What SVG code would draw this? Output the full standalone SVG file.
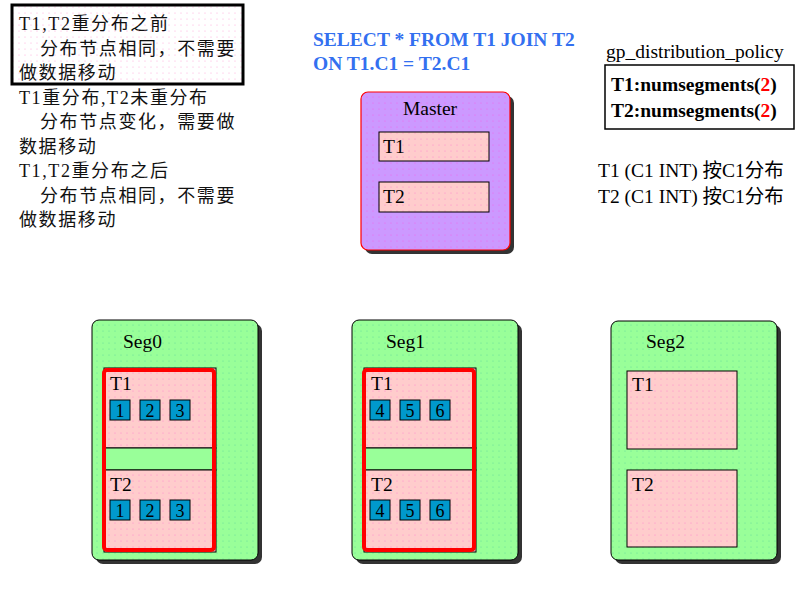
<svg xmlns="http://www.w3.org/2000/svg" width="800" height="600" viewBox="0 0 800 600">
<defs>
<pattern id="pinkdots" width="6" height="6" patternUnits="userSpaceOnUse"><rect width="6" height="6" fill="#ffcccc"/><circle cx="1" cy="1" r="0.6" fill="#ff88cc"/></pattern>
<pattern id="greendots" width="6" height="6" patternUnits="userSpaceOnUse"><rect width="6" height="6" fill="#99ff99"/><circle cx="1" cy="1" r="0.6" fill="#66dd99"/></pattern>
<pattern id="purpledots" width="6" height="6" patternUnits="userSpaceOnUse"><rect width="6" height="6" fill="#cc99ff"/><circle cx="1" cy="1" r="0.6" fill="#ee66ee"/></pattern>
<pattern id="whitedots" width="6" height="6" patternUnits="userSpaceOnUse"><rect width="6" height="6" fill="#ffffff"/><circle cx="1" cy="1" r="0.6" fill="#ffaadd"/></pattern>
</defs>
<style>
text{font-family:"Liberation Serif","Noto Sans CJK SC",serif;font-size:18px;fill:#000}
.cn{letter-spacing:1.6px;fill:#111}
.big{font-size:19.5px}
.sql{font-weight:bold;fill:#3370f0;font-size:19.5px}
.shadow{fill:#333}
.seg{fill:url(#greendots);stroke:#000;stroke-width:1}
.tbl{fill:url(#pinkdots);stroke:#000;stroke-width:1}
.band{fill:#99ff99;stroke:#000;stroke-width:1}
.redbox{fill:none;stroke:#ff0000;stroke-width:4}
.sq{fill:#0099cc;stroke:#000;stroke-width:1}
.num{text-anchor:middle}
.bold{font-weight:bold}
.red{fill:#ff0000}
</style>
<rect width="800" height="600" fill="#fff"/>

<g id="notes">
<rect x="12" y="5" width="231" height="79" fill="url(#whitedots)" stroke="#000" stroke-width="3"/>
<text class="cn" x="19" y="30">T1,T2重分布之前</text>
<text class="cn" x="40" y="54.5">分布节点相同，不需要</text>
<text class="cn" x="19" y="79">做数据移动</text>
<text class="cn" x="19" y="103.5">T1重分布,T2未重分布</text>
<text class="cn" x="40" y="128">分布节点变化，需要做</text>
<text class="cn" x="19" y="152.5">数据移动</text>
<text class="cn" x="19" y="177">T1,T2重分布之后</text>
<text class="cn" x="40" y="201.5">分布节点相同，不需要</text>
<text class="cn" x="19" y="226">做数据移动</text>
</g>

<g id="sql">
<text class="sql" x="313" y="46">SELECT * FROM T1 JOIN T2</text>
<text class="sql" x="313" y="70">ON T1.C1 = T2.C1</text>
</g>

<g id="policy">
<text class="big" x="606" y="58">gp_distribution_policy</text>
<rect x="605" y="65" width="189" height="64" fill="#fff" stroke="#000" stroke-width="1.5"/>
<text class="bold big" x="611" y="91">T1:numsegments(<tspan class="red">2</tspan>)</text>
<text class="bold big" x="611" y="117">T2:numsegments(<tspan class="red">2</tspan>)</text>
<text class="big" x="598" y="177">T1 (C1 INT) 按C1分布</text>
<text class="big" x="598" y="203">T2 (C1 INT) 按C1分布</text>
</g>

<g id="master">
<rect class="shadow" x="365" y="96" width="149" height="158" rx="7"/>
<rect x="361" y="92" width="149" height="158" rx="7" fill="url(#purpledots)" stroke="#ff0000" stroke-width="1.2"/>
<text class="big" x="430" y="115" text-anchor="middle">Master</text>
<rect class="tbl" x="379" y="132" width="110" height="29"/>
<text class="big" x="383" y="153">T1</text>
<rect class="tbl" x="379" y="182" width="110" height="30"/>
<text class="big" x="383" y="203">T2</text>
</g>

<g id="seg0">
<rect class="shadow" x="96" y="324" width="166" height="240" rx="7"/>
<rect class="seg" x="92" y="320" width="166" height="240" rx="7"/>
<text class="big" x="123" y="348">Seg0</text>
<rect class="tbl" x="104" y="368" width="112" height="80"/>
<rect class="band" x="104" y="448" width="112" height="22"/>
<rect class="tbl" x="104" y="470" width="112" height="82"/>
<rect class="redbox" x="104" y="370" width="110" height="180" rx="3"/>
<text class="big" x="110" y="390">T1</text>
<rect class="sq" x="110" y="400" width="20" height="20"/><text class="num" x="120" y="417">1</text>
<rect class="sq" x="140" y="400" width="20" height="20"/><text class="num" x="150" y="417">2</text>
<rect class="sq" x="170" y="400" width="20" height="20"/><text class="num" x="180" y="417">3</text>
<text class="big" x="110" y="491">T2</text>
<rect class="sq" x="110" y="500" width="20" height="20"/><text class="num" x="120" y="517">1</text>
<rect class="sq" x="140" y="500" width="20" height="20"/><text class="num" x="150" y="517">2</text>
<rect class="sq" x="170" y="500" width="20" height="20"/><text class="num" x="180" y="517">3</text>
</g>

<g id="seg1">
<rect class="shadow" x="356" y="324" width="166" height="240" rx="7"/>
<rect class="seg" x="352" y="320" width="166" height="240" rx="7"/>
<text class="big" x="386" y="348">Seg1</text>
<rect class="tbl" x="364" y="368" width="112" height="80"/>
<rect class="band" x="364" y="448" width="112" height="22"/>
<rect class="tbl" x="364" y="470" width="112" height="82"/>
<rect class="redbox" x="364" y="370" width="110" height="180" rx="3"/>
<text class="big" x="371" y="390">T1</text>
<rect class="sq" x="370" y="400" width="20" height="20"/><text class="num" x="380" y="417">4</text>
<rect class="sq" x="400" y="400" width="20" height="20"/><text class="num" x="410" y="417">5</text>
<rect class="sq" x="430" y="400" width="20" height="20"/><text class="num" x="440" y="417">6</text>
<text class="big" x="371" y="491">T2</text>
<rect class="sq" x="370" y="500" width="20" height="20"/><text class="num" x="380" y="517">4</text>
<rect class="sq" x="400" y="500" width="20" height="20"/><text class="num" x="410" y="517">5</text>
<rect class="sq" x="430" y="500" width="20" height="20"/><text class="num" x="440" y="517">6</text>
</g>

<g id="seg2">
<rect class="shadow" x="615" y="325" width="166" height="239" rx="7"/>
<rect class="seg" x="611" y="321" width="166" height="239" rx="7"/>
<text class="big" x="646" y="348">Seg2</text>
<rect class="tbl" x="627" y="371" width="110" height="78"/>
<text class="big" x="632" y="391">T1</text>
<rect class="tbl" x="627" y="470" width="110" height="77"/>
<text class="big" x="632" y="491">T2</text>
</g>

<g id="connectors"></g>
</svg>
